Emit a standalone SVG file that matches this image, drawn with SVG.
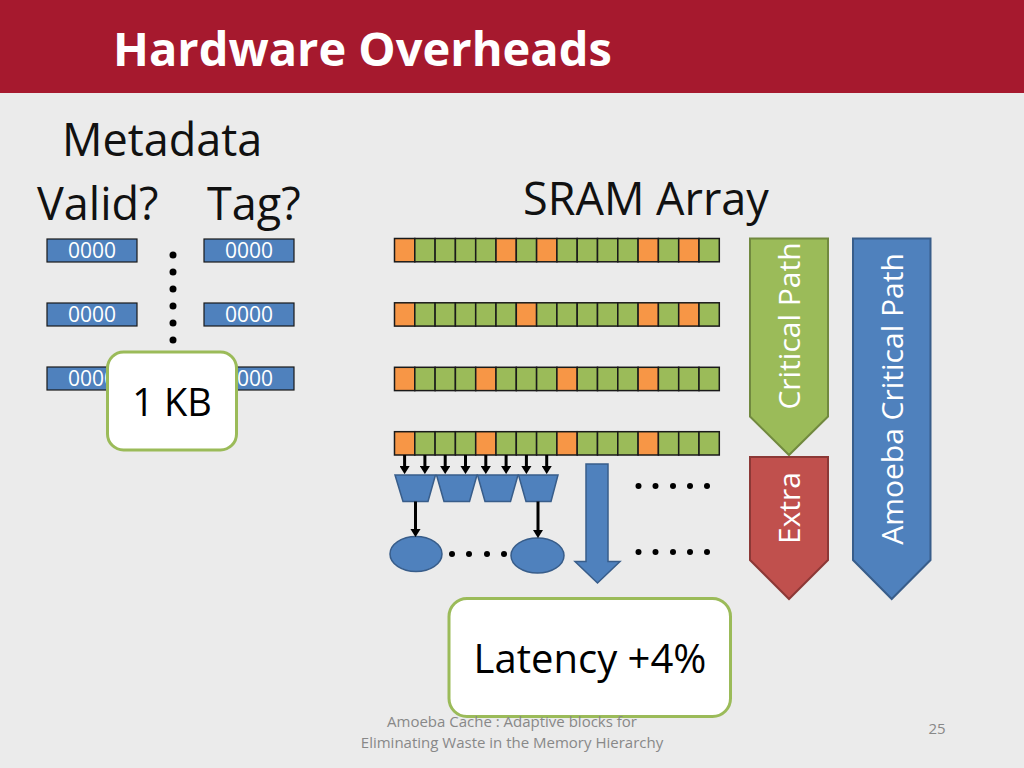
<svg xmlns="http://www.w3.org/2000/svg" width="1024" height="768" viewBox="0 0 1024 768">
<defs>
<style>
.t{font-family:"Open Sans","Liberation Sans",sans-serif;}
.g{fill:#9BBB59;stroke:#1a1a1a;stroke-width:1.5;}
.o{fill:#F79646;stroke:#1a1a1a;stroke-width:1.5;}
.meta{fill:#4F81BD;stroke:#1a1a1a;stroke-width:1.2;}
.mt{font-family:"Open Sans","Liberation Sans",sans-serif;font-size:21px;fill:#fff;text-anchor:middle;}
.blue{fill:#4F81BD;stroke:#385D8A;stroke-width:1.5;}
.dot{fill:#000;}
.box{fill:#fff;stroke:#9BBB59;stroke-width:3;}
.conn{stroke:#000;stroke-width:3;fill:none;marker-end:url(#ah);}
</style>
<marker id="ah" viewBox="0 0 8 10" refX="0" refY="5" markerWidth="2.7" markerHeight="3.4" orient="auto" markerUnits="strokeWidth">
<path d="M0,0 L8,5 L0,10 z" fill="#000"/>
</marker>
</defs>
<rect width="1024" height="768" fill="#EBEBEB"/>
<rect width="1024" height="93" fill="#A6192E"/>
<text class="t" x="113" y="66" font-size="47" font-weight="bold" fill="#fff">Hardware Overheads</text>

<g id="labels" class="t" fill="#111" font-size="45">
<text x="62" y="156">Metadata</text>
<text x="37" y="220">Valid?</text>
<text x="207" y="220">Tag?</text>
<text x="523" y="215">SRAM Array</text>
</g>

<g id="metadata">
<rect class="meta" x="47" y="239" width="90" height="23"/>
<rect class="meta" x="204" y="239" width="90" height="23"/>
<rect class="meta" x="47" y="303" width="90" height="23"/>
<rect class="meta" x="204" y="303" width="90" height="23"/>
<rect class="meta" x="47" y="367" width="90" height="23"/>
<rect class="meta" x="204" y="367" width="90" height="23"/>
<text class="mt" x="92" y="258">0000</text>
<text class="mt" x="249" y="258">0000</text>
<text class="mt" x="92" y="322">0000</text>
<text class="mt" x="249" y="322">0000</text>
<text class="mt" x="92" y="386">0000</text>
<text class="mt" x="249" y="386">0000</text>
<circle class="dot" cx="173" cy="255" r="3.5"/>
<circle class="dot" cx="173" cy="272" r="3.5"/>
<circle class="dot" cx="173" cy="289" r="3.5"/>
<circle class="dot" cx="173" cy="306" r="3.5"/>
<circle class="dot" cx="173" cy="323" r="3.5"/>
<circle class="dot" cx="173" cy="340" r="3.5"/>
</g>

<g id="kb">
<rect class="box" x="107.5" y="352" width="129" height="98" rx="16"/>
<text class="t" x="172" y="416" font-size="38" text-anchor="middle" fill="#000">1 KB</text>
</g>

<g id="sram">
<g id="row1">
<rect class="o" x="394.5" y="238.5" width="20.3" height="23.3"/>
<rect class="g" x="414.8" y="238.5" width="20.3" height="23.3"/>
<rect class="g" x="435.1" y="238.5" width="20.3" height="23.3"/>
<rect class="g" x="455.4" y="238.5" width="20.3" height="23.3"/>
<rect class="g" x="475.7" y="238.5" width="20.3" height="23.3"/>
<rect class="o" x="496" y="238.5" width="20.3" height="23.3"/>
<rect class="g" x="516.3" y="238.5" width="20.3" height="23.3"/>
<rect class="o" x="536.6" y="238.5" width="20.3" height="23.3"/>
<rect class="g" x="556.9" y="238.5" width="20.3" height="23.3"/>
<rect class="g" x="577.2" y="238.5" width="20.3" height="23.3"/>
<rect class="g" x="597.5" y="238.5" width="20.3" height="23.3"/>
<rect class="g" x="617.8" y="238.5" width="20.3" height="23.3"/>
<rect class="o" x="638.1" y="238.5" width="20.3" height="23.3"/>
<rect class="g" x="658.4" y="238.5" width="20.3" height="23.3"/>
<rect class="o" x="678.7" y="238.5" width="20.3" height="23.3"/>
<rect class="g" x="699" y="238.5" width="20.3" height="23.3"/>
</g>
<g id="row2">
<rect class="o" x="394.5" y="302.8" width="20.3" height="23.3"/>
<rect class="g" x="414.8" y="302.8" width="20.3" height="23.3"/>
<rect class="g" x="435.1" y="302.8" width="20.3" height="23.3"/>
<rect class="g" x="455.4" y="302.8" width="20.3" height="23.3"/>
<rect class="g" x="475.7" y="302.8" width="20.3" height="23.3"/>
<rect class="g" x="496" y="302.8" width="20.3" height="23.3"/>
<rect class="o" x="516.3" y="302.8" width="20.3" height="23.3"/>
<rect class="g" x="536.6" y="302.8" width="20.3" height="23.3"/>
<rect class="g" x="556.9" y="302.8" width="20.3" height="23.3"/>
<rect class="g" x="577.2" y="302.8" width="20.3" height="23.3"/>
<rect class="g" x="597.5" y="302.8" width="20.3" height="23.3"/>
<rect class="g" x="617.8" y="302.8" width="20.3" height="23.3"/>
<rect class="o" x="638.1" y="302.8" width="20.3" height="23.3"/>
<rect class="g" x="658.4" y="302.8" width="20.3" height="23.3"/>
<rect class="o" x="678.7" y="302.8" width="20.3" height="23.3"/>
<rect class="g" x="699" y="302.8" width="20.3" height="23.3"/>
</g>
<g id="row3">
<rect class="o" x="394.5" y="367.3" width="20.3" height="23.3"/>
<rect class="g" x="414.8" y="367.3" width="20.3" height="23.3"/>
<rect class="g" x="435.1" y="367.3" width="20.3" height="23.3"/>
<rect class="g" x="455.4" y="367.3" width="20.3" height="23.3"/>
<rect class="o" x="475.7" y="367.3" width="20.3" height="23.3"/>
<rect class="g" x="496" y="367.3" width="20.3" height="23.3"/>
<rect class="g" x="516.3" y="367.3" width="20.3" height="23.3"/>
<rect class="g" x="536.6" y="367.3" width="20.3" height="23.3"/>
<rect class="o" x="556.9" y="367.3" width="20.3" height="23.3"/>
<rect class="g" x="577.2" y="367.3" width="20.3" height="23.3"/>
<rect class="g" x="597.5" y="367.3" width="20.3" height="23.3"/>
<rect class="g" x="617.8" y="367.3" width="20.3" height="23.3"/>
<rect class="o" x="638.1" y="367.3" width="20.3" height="23.3"/>
<rect class="g" x="658.4" y="367.3" width="20.3" height="23.3"/>
<rect class="g" x="678.7" y="367.3" width="20.3" height="23.3"/>
<rect class="g" x="699" y="367.3" width="20.3" height="23.3"/>
</g>
<g id="row4">
<rect class="o" x="394.5" y="431.7" width="20.3" height="23.3"/>
<rect class="g" x="414.8" y="431.7" width="20.3" height="23.3"/>
<rect class="g" x="435.1" y="431.7" width="20.3" height="23.3"/>
<rect class="g" x="455.4" y="431.7" width="20.3" height="23.3"/>
<rect class="o" x="475.7" y="431.7" width="20.3" height="23.3"/>
<rect class="g" x="496" y="431.7" width="20.3" height="23.3"/>
<rect class="g" x="516.3" y="431.7" width="20.3" height="23.3"/>
<rect class="g" x="536.6" y="431.7" width="20.3" height="23.3"/>
<rect class="o" x="556.9" y="431.7" width="20.3" height="23.3"/>
<rect class="g" x="577.2" y="431.7" width="20.3" height="23.3"/>
<rect class="g" x="597.5" y="431.7" width="20.3" height="23.3"/>
<rect class="g" x="617.8" y="431.7" width="20.3" height="23.3"/>
<rect class="o" x="638.1" y="431.7" width="20.3" height="23.3"/>
<rect class="g" x="658.4" y="431.7" width="20.3" height="23.3"/>
<rect class="g" x="678.7" y="431.7" width="20.3" height="23.3"/>
<rect class="g" x="699" y="431.7" width="20.3" height="23.3"/>
</g>
</g>

<g id="muxes">
<polygon class="blue" points="395,475 435.5,475 428,501.5 403,501.5"/>
<polygon class="blue" points="436.5,475 477,475 469.5,501.5 444,501.5"/>
<polygon class="blue" points="477.5,475 518,475 510.5,501.5 485,501.5"/>
<polygon class="blue" points="518.5,475 558,475 551,501.5 526,501.5"/>
</g>

<g id="outputs">
<ellipse class="blue" cx="416" cy="554" rx="26" ry="17.5"/>
<ellipse class="blue" cx="537.5" cy="555.5" rx="26.5" ry="17.5"/>
<circle class="dot" cx="452" cy="554" r="3"/>
<circle class="dot" cx="469" cy="554" r="3"/>
<circle class="dot" cx="487" cy="554" r="3"/>
<circle class="dot" cx="504" cy="554" r="3"/>
</g>

<g id="latency-arrow">
<polygon class="blue" points="586,464 608,464 608,561.5 620,561.5 597.5,583 575,561.5 586,561.5"/>
</g>

<g id="ellipsis-dots">
<circle class="dot" cx="638.5" cy="486" r="3"/>
<circle class="dot" cx="655.5" cy="486" r="3"/>
<circle class="dot" cx="673" cy="486" r="3"/>
<circle class="dot" cx="690" cy="486" r="3"/>
<circle class="dot" cx="707" cy="486" r="3"/>
<circle class="dot" cx="638.5" cy="552" r="3"/>
<circle class="dot" cx="655.5" cy="552" r="3"/>
<circle class="dot" cx="673" cy="552" r="3"/>
<circle class="dot" cx="690" cy="552" r="3"/>
<circle class="dot" cx="707" cy="552" r="3"/>
</g>

<g id="connectors">
<line class="conn" x1="404.6" y1="455" x2="404.6" y2="466"/>
<line class="conn" x1="424.9" y1="455" x2="424.9" y2="466"/>
<line class="conn" x1="445.2" y1="455" x2="445.2" y2="466"/>
<line class="conn" x1="465.5" y1="455" x2="465.5" y2="466"/>
<line class="conn" x1="485.8" y1="455" x2="485.8" y2="466"/>
<line class="conn" x1="506.1" y1="455" x2="506.1" y2="466"/>
<line class="conn" x1="526.4" y1="455" x2="526.4" y2="466"/>
<line class="conn" x1="546.7" y1="455" x2="546.7" y2="466"/>
<line class="conn" x1="415.5" y1="501.5" x2="415.5" y2="529"/>
<line class="conn" x1="538" y1="501.5" x2="538" y2="530"/>
</g>

<g id="critical-path">
<polygon points="750,238.5 828,238.5 828,416.5 789,455 750,416.5" fill="#9BBB59" stroke="#71893F" stroke-width="2"/>
<text class="t" transform="translate(800,326) rotate(-90)" font-size="30" fill="#fff" text-anchor="middle">Critical Path</text>
</g>
<g id="extra">
<polygon points="750,457 828,457 828,560 789,599 750,560" fill="#C0504D" stroke="#8C3836" stroke-width="2"/>
<text class="t" transform="translate(800,508) rotate(-90)" font-size="30" fill="#fff" text-anchor="middle">Extra</text>
</g>
<g id="amoeba-critical-path">
<polygon points="853,238.5 930.5,238.5 930.5,560 891.7,599 853,560" fill="#4F81BD" stroke="#385D8A" stroke-width="2"/>
<text class="t" transform="translate(903,399) rotate(-90)" font-size="30" fill="#fff" text-anchor="middle">Amoeba Critical Path</text>
</g>

<g id="latency">
<rect class="box" x="449" y="598.5" width="281.5" height="118" rx="18"/>
<text class="t" x="590" y="673" font-size="40" text-anchor="middle" fill="#000">Latency +4%</text>
</g>

<g id="footer" class="t" fill="#888" font-size="15">
<text x="512" y="727" text-anchor="middle">Amoeba Cache : Adaptive blocks for</text>
<text x="512" y="748" text-anchor="middle">Eliminating Waste in the Memory Hierarchy</text>
<text x="937" y="734" text-anchor="middle">25</text>
</g>
</svg>
